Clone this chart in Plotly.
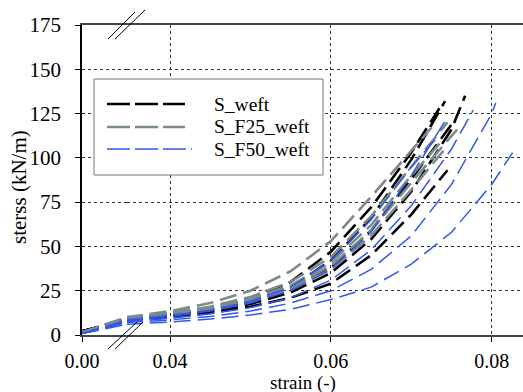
import plotly.graph_objects as go

# ---------------- data ----------------
BREAK_X = 0.0345          # strain where the axis break sits
START_Y = {"S_weft": 2.0, "S_F25_weft": 1.5, "S_F50_weft": 0.8}

grid_x = [0.0345, 0.04, 0.045, 0.05, 0.055, 0.06, 0.065, 0.07, 0.075, 0.08]

# S_weft (black)
k1_x = grid_x[:8] + [0.0735]
k1_y = [9.5, 12, 15, 20, 30, 47, 72, 103, 128]
k2_x = grid_x[:9] + [0.0767]
k2_y = [8.5, 11, 13.5, 17.5, 24, 35, 54, 81, 116, 135]
k3_x = grid_x[:8] + [0.0745]
k3_y = [8, 10, 12.5, 16, 21, 29, 45, 68, 93]
k4_x = grid_x[:8] + [0.0742]
k4_y = [9, 11.5, 14.5, 19, 27, 42, 66, 99, 132]
k5_x = grid_x[:8] + [0.0752]
k5_y = [8.5, 11, 14, 18.5, 26, 38, 59, 88, 120]

# S_F25_weft (grey)
g1_x = grid_x[:8] + [0.0725]
g1_y = [10, 13.5, 18, 25, 36, 53, 78, 104, 117]
g2_x = grid_x[:8] + [0.0745]
g2_y = [9.5, 12.5, 16, 21.5, 30, 44, 67, 95, 120]
g3_x = grid_x[:9] + [0.0757]
g3_y = [9, 12, 15, 20, 27, 39, 59, 86, 112, 116]
g4_x = grid_x[:8] + [0.074]
g4_y = [9, 11.5, 14.5, 19, 26, 37, 56, 82, 104]
g5_x = grid_x[:8] + [0.0735]
g5_y = [9.5, 12.5, 15.5, 20.5, 28, 41, 62, 90, 108]

# S_F50_weft (blue)
b1_x = grid_x[:10] + [0.0826]
b1_y = [6, 7.3, 9, 11.3, 14.5, 20, 27, 40, 58, 85, 103]
b2_x = grid_x[:10] + [0.0805]
b2_y = [7, 8.5, 10.5, 13.5, 18, 25, 37, 56, 85, 125, 131]
b3_x = grid_x[:9] + [0.0777]
b3_y = [7.5, 9.5, 12, 15.5, 21, 31, 48, 73, 105, 127]
b4_x = grid_x[:8] + [0.0745]
b4_y = [8, 10.5, 13.5, 18, 25, 37, 58, 90, 123]
b5_x = grid_x[:8] + [0.0735]
b5_y = [8.5, 11, 14, 19, 27, 42, 65, 95, 113]

series = {
    "S_weft": [(k1_x, k1_y), (k2_x, k2_y), (k3_x, k3_y), (k4_x, k4_y), (k5_x, k5_y)],
    "S_F25_weft": [(g1_x, g1_y), (g2_x, g2_y), (g3_x, g3_y), (g4_x, g4_y), (g5_x, g5_y)],
    "S_F50_weft": [(b1_x, b1_y), (b2_x, b2_y), (b3_x, b3_y), (b4_x, b4_y), (b5_x, b5_y)],
}

x_ticks_left = [0.0]
x_ticks_right = [0.04, 0.06, 0.08]
y_ticks = [0, 25, 50, 75, 100, 125, 150, 175]

# ---------------- styles ----------------
styles = {
    "S_weft": dict(color="#000000", width=2.6, dash="17px,7px"),
    "S_F25_weft": dict(color="#7b8a8a", width=2.6, dash="17px,7px"),
    "S_F50_weft": dict(color="#3157ee", width=1.5, dash="17px,7px"),
}
legend_dash = {
    "S_weft": "23px,5px",
    "S_F25_weft": "23px,5px",
    "S_F50_weft": "23px,5px,23px,5px,23px,5px,2px,5px",
}

W, H = 523, 392
ML, MR, MT, MB = 82, 0, 25, 57
PW, PH = W - ML - MR, H - MT - MB


def px(xp):
    return (xp - ML) / PW


def py(yp):
    return (H - MB - yp) / PH


FONT = "Liberation Serif, Times New Roman, serif"
split = px(127)

fig = go.Figure()
for name, curves in series.items():
    st = styles[name]
    for cx, cy in curves:
        # compressed part before the axis break
        fig.add_trace(go.Scatter(x=[0.0, cx[0]], y=[START_Y[name], cy[0]], mode="lines",
                                 line=st, xaxis="x", yaxis="y", showlegend=False,
                                 name=name, hoverinfo="skip"))
        fig.add_trace(go.Scatter(x=cx, y=cy, mode="lines", line=st, xaxis="x2", yaxis="y",
                                 showlegend=False, name=name))

right_lo = 0.04 - (170 - 127) / 8042
right_hi = 0.08 + (W - 491.7) / 8042

axis_common = dict(showline=True, linecolor="#444", linewidth=1.5, mirror=True,
                   ticks="outside", ticklen=5, tickcolor="#000", tickwidth=1,
                   tickfont=dict(family=FONT, size=20, color="#000"),
                   ticklabelstandoff=2, zeroline=False)

fig.update_layout(
    width=W, height=H, margin=dict(l=ML, r=MR, t=MT, b=MB),
    paper_bgcolor="white", plot_bgcolor="white", showlegend=False,
    font=dict(family=FONT, color="#000"),
    xaxis=dict(domain=[0, split], range=[0, BREAK_X], tickvals=x_ticks_left,
               ticktext=["0.00"], showgrid=False, **axis_common),
    xaxis2=dict(domain=[split, 1], range=[right_lo, right_hi], tickvals=x_ticks_right,
                ticktext=["0.04", "0.06", "0.08"], anchor="y", showgrid=True,
                gridcolor="#333", griddash="dot", gridwidth=1, **axis_common),
    yaxis=dict(range=[0, 175], tickvals=y_ticks, showgrid=True, gridcolor="#333",
               griddash="dot", gridwidth=1, showline=True, linecolor="#000", linewidth=1.5,
               ticks="outside", ticklen=5, tickcolor="#000", zeroline=False,
               tickfont=dict(family=FONT, size=21, color="#000"), ticklabelstandoff=10,
               anchor="x"),
)

# axis titles
fig.add_annotation(text="strain (-)", x=px(303), y=py(383), xref="paper", yref="paper",
                   xanchor="center", yanchor="middle",
                   showarrow=False, font=dict(family=FONT, size=19, color="#000"))
fig.add_annotation(text="sterss (kN/m)", x=px(19), y=py(187), xref="paper", yref="paper",
                   xanchor="center", yanchor="middle",
                   showarrow=False, textangle=-90, font=dict(family=FONT, size=21, color="#000"))

# axis-break marks
for (x0, y0, x1, y1) in [(108, 39, 135, 12), (115, 39, 145, 10),
                         (108, 349, 137, 322), (115, 349, 143, 322)]:
    fig.add_shape(type="line", xref="paper", yref="paper", x0=px(x0), y0=py(y0),
                  x1=px(x1), y1=py(y1), line=dict(color="#000", width=1))

# legend box
fig.add_shape(type="rect", xref="paper", yref="paper", x0=px(94), x1=px(323),
              y0=py(175), y1=py(79), line=dict(color="#777", width=1), fillcolor="white")
rows = [104, 127, 149]
for name, yr in zip(series.keys(), rows):
    st = styles[name]
    fig.add_shape(type="line", xref="paper", yref="paper", x0=px(107),
                  x1=px(192 if name == "S_F50_weft" else 185), y0=py(yr), y1=py(yr),
                  line=dict(color=st["color"], width=st["width"], dash=legend_dash[name]))
    fig.add_annotation(text=name, x=px(212), y=py(yr), xref="paper", yref="paper",
                       xanchor="left", yanchor="middle", showarrow=False,
                       font=dict(family=FONT, size=19.5, color="#000"))

fig.write_html("out.html", config={"displayModeBar": False},
               post_script="document.body.style.margin='0';document.body.style.overflow='hidden';")
